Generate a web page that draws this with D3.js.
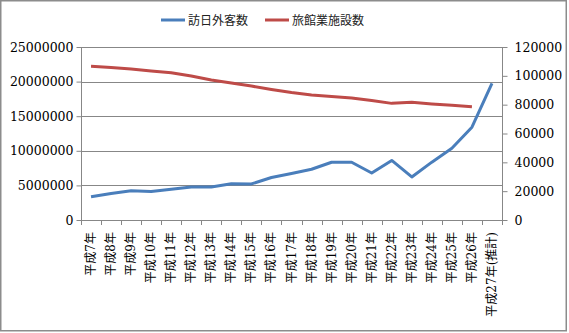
<!DOCTYPE html>
<html><head><meta charset="utf-8">
<script src="https://cdn.jsdelivr.net/npm/d3@7"></script>
<style>html,body{margin:0;padding:0;background:#fff;}svg{display:block;}
.num{font-family:"DejaVu Serif",serif;}
.cjk{font-family:"DejaVu Serif","Noto Sans CJK JP",serif;}
</style>
</head><body>
<svg id="c" width="569" height="333"></svg>
<script>
const categories = ["平成7年","平成8年","平成9年","平成10年","平成11年","平成12年","平成13年","平成14年","平成15年","平成16年","平成17年","平成18年","平成19年","平成20年","平成21年","平成22年","平成23年","平成24年","平成25年","平成26年","平成27年(推計)"];
const visitors = [3345274,3837113,4218208,4106057,4437863,4757146,4771555,5238963,5211725,6137905,6727926,7334077,8346969,8350835,6789658,8611175,6218752,8358105,10363904,13413467,19737409];
const facilities = [106600,105800,104700,103300,102200,99900,97100,95000,92900,90500,88400,86700,85700,84600,82900,80900,81600,80500,79600,78600];
const leftTicks = [0,5000000,10000000,15000000,20000000,25000000];
const rightTicks = [0,20000,40000,60000,80000,100000,120000];
const seriesNames = ["訪日外客数","旅館業施設数"];
const colors = ["#4a7ebb","#be4b48"];

const svg = d3.select("#c");
const L = 81, R = 502, T = 47, B = 220;
const x = d3.scaleBand().domain(categories).range([L, R]);
const yL = d3.scaleLinear().domain([0, 25000000]).range([B, T]);
const yR = d3.scaleLinear().domain([0, 120000]).range([B, T]);
const grid = "#878787";

// outer border
svg.append("rect").attr("x",0.75).attr("y",0.75).attr("width",565.5).attr("height",330)
  .attr("fill","#fff").attr("stroke","#8c8c8c").attr("stroke-width",1.5);

// gridlines
svg.append("g").selectAll("line").data(leftTicks.slice(1)).join("line")
  .attr("x1",L).attr("x2",R).attr("y1",d=>Math.round(yL(d))+0.5).attr("y2",d=>Math.round(yL(d))+0.5)
  .attr("stroke",grid).attr("stroke-width",1);

// left axis
const ga = svg.append("g").attr("transform",`translate(${L+0.5},0)`)
  .call(d3.axisLeft(yL).tickValues(leftTicks).tickSize(5).tickPadding(3).tickFormat(d3.format("d")));
// right axis
const gb = svg.append("g").attr("transform",`translate(${R+0.5},0)`)
  .call(d3.axisRight(yR).tickValues(rightTicks).tickSize(5).tickPadding(7).tickFormat(d3.format("d")));
[ga,gb].forEach(g=>{
  g.attr("font-family",null);
  g.select(".domain").attr("stroke",grid).attr("d", null);
  g.selectAll(".tick line").attr("stroke",grid);
  g.selectAll("text").attr("class","num").style("font-size","12.5px").attr("fill","#000");
});
ga.append("line").attr("y1",T).attr("y2",B).attr("stroke",grid);
gb.append("line").attr("y1",T).attr("y2",B).attr("stroke",grid);

// bottom axis
const bx = svg.append("g");
bx.append("line").attr("x1",L).attr("x2",R).attr("y1",B+0.5).attr("y2",B+0.5).attr("stroke",grid);
const bounds = categories.map(c=>x(c)).concat([x.range()[1]]);
bx.selectAll("line.t").data(bounds).join("line").attr("class","t")
  .attr("x1",d=>Math.round(d)+0.5).attr("x2",d=>Math.round(d)+0.5).attr("y1",B).attr("y2",B+5).attr("stroke",grid);
bx.selectAll("text").data(categories).join("text")
  .attr("class","cjk")
  .attr("transform",d=>`translate(${x(d)+x.bandwidth()/2+4},${B+12}) rotate(-90)`)
  .attr("text-anchor","end").style("font-size","12px").attr("fill","#000")
  .text(d=>d);

// lines
const lineV = d3.line().x((d,i)=>x(categories[i])+x.bandwidth()/2).y(d=>yL(d));
const lineF = d3.line().x((d,i)=>x(categories[i])+x.bandwidth()/2).y(d=>yR(d));
svg.append("path").datum(facilities).attr("d",lineF).attr("fill","none").attr("stroke",colors[1]).attr("stroke-width",3).attr("stroke-linejoin","round");
svg.append("path").datum(visitors).attr("d",lineV).attr("fill","none").attr("stroke",colors[0]).attr("stroke-width",3).attr("stroke-linejoin","round");

// legend
const leg = [{x:161, name:seriesNames[0], c:colors[0]},{x:265, name:seriesNames[1], c:colors[1]}];
leg.forEach(l=>{
  svg.append("line").attr("x1",l.x).attr("x2",l.x+24).attr("y1",20).attr("y2",20).attr("stroke",l.c).attr("stroke-width",3);
  svg.append("text").attr("x",l.x+27).attr("y",24.5).style("font-family","'Noto Sans CJK JP', sans-serif").style("font-size","12px").attr("fill","#222").text(l.name);
});
</script>
</body></html>
